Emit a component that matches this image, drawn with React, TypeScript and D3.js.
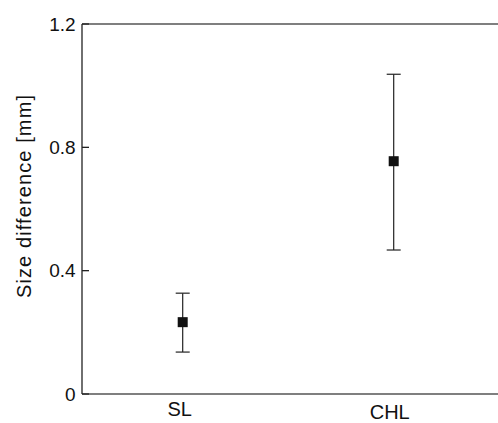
import React from "react";
import * as d3 from "d3";

const categories = ["SL", "CHL"];
const means = [0.233, 0.755];
const upper = [0.327, 1.037];
const lower = [0.136, 0.467];
const yTicks = [0, 0.4, 0.8, 1.2];
const yTickLabels = ["0", "0.4", "0.8", "1.2"];

export default function App() {
  const W = 498, H = 423;
  const left = 82, right = 498, top = 24, bottom = 394;
  const y = d3.scaleLinear().domain([0, 1.2]).range([bottom, top]);
  const x = d3.scalePoint().domain(categories).range([182.7, 393.7]);
  const font = "'Liberation Sans', Arial, Helvetica, sans-serif";
  const labelDx = [-3, -4];
  const labelY = [415.7, 419];
  return (
    <svg width={W} height={H} style={{ position: "absolute", left: 0, top: 0, background: "#fff" }}>
      <line x1={left} x2={right} y1={top} y2={top} stroke="#555" strokeWidth={1.3} />
      <line x1={left} x2={right} y1={bottom} y2={bottom} stroke="#555" strokeWidth={1.3} />
      <line x1={left} x2={left} y1={top} y2={bottom} stroke="#222" strokeWidth={1.3} />
      {yTicks.map((t, i) => (
        <g key={i}>
          <line x1={left} x2={left + 7} y1={y(t)} y2={y(t)} stroke="#222" strokeWidth={1.3} />
          <text x={75.7} y={y(t) + 6.7} textAnchor="end" fontFamily={font} fontSize={19} fill="#111">
            {yTickLabels[i]}
          </text>
        </g>
      ))}
      <text
        transform={`translate(30.7,196.5) rotate(-90)`}
        textAnchor="middle"
        fontFamily={font}
        fontSize={20}
        textLength={203}
        lengthAdjust="spacing"
        fill="#111"
      >
        Size difference [mm]
      </text>
      {categories.map((c, i) => {
        const cx = x(c)!;
        return (
          <g key={c}>
            <line x1={cx} x2={cx} y1={y(upper[i])} y2={y(lower[i])} stroke="#222" strokeWidth={1.2} />
            <line x1={cx - 7} x2={cx + 7} y1={y(upper[i])} y2={y(upper[i])} stroke="#222" strokeWidth={1.2} />
            <line x1={cx - 7} x2={cx + 7} y1={y(lower[i])} y2={y(lower[i])} stroke="#222" strokeWidth={1.2} />
            <rect x={cx - 5} y={y(means[i]) - 5} width={10} height={10} fill="#111" />
            <text x={cx + labelDx[i]} y={labelY[i]} textAnchor="middle" fontFamily={font} fontSize={20} fill="#111">
              {c}
            </text>
          </g>
        );
      })}
    </svg>
  );
}
